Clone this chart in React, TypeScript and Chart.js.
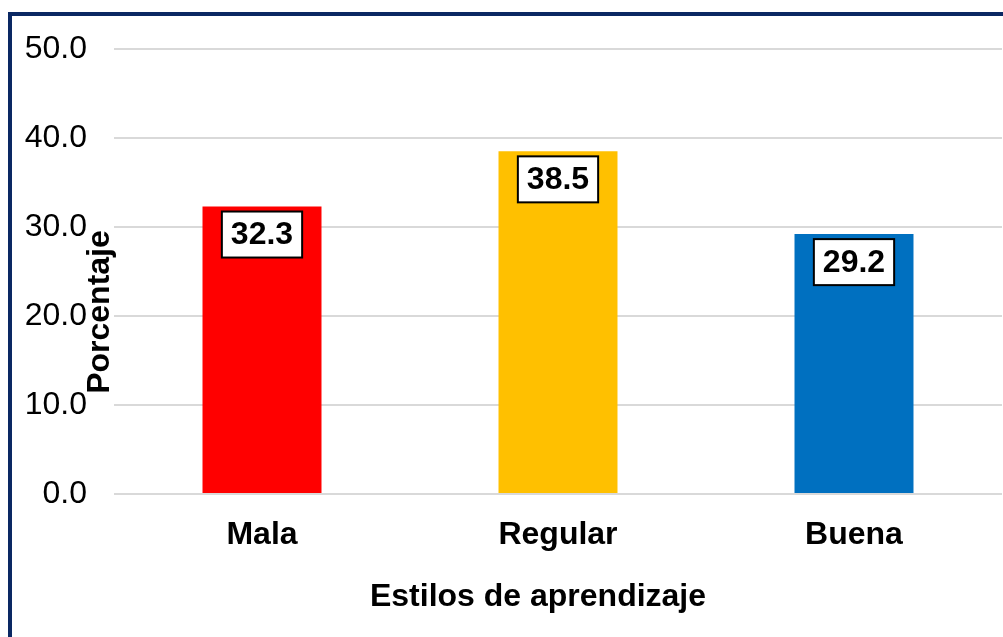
import React, { useEffect, useRef } from "react";
import { Chart, registerables } from "chart.js";

Chart.register(...registerables);

const categories = ["Mala", "Regular", "Buena"];
const values = [32.3, 38.5, 29.2];
const barColors = ["#FF0000", "#FFC000", "#0070C0"];
const yTitle = "Porcentaje";
const xTitle = "Estilos de aprendizaje";

const FONT = "'Liberation Sans', Arial, sans-serif";

const framePlugin = {
  id: "frame",
  beforeDraw(chart: any) {
    const ctx = chart.ctx;
    ctx.save();
    ctx.fillStyle = "#ffffff";
    ctx.fillRect(0, 0, chart.width, chart.height);
    ctx.fillStyle = "#0A2863";
    ctx.fillRect(8, 12, chart.width, 4);
    ctx.fillRect(8, 12, 4, chart.height);
    ctx.restore();
  },
};

const titlesPlugin = {
  id: "titles",
  afterDraw(chart: any) {
    const ctx = chart.ctx;
    const area = chart.chartArea;
    ctx.save();
    ctx.fillStyle = "#000";
    ctx.font = `bold 32px ${FONT}`;
    ctx.textAlign = "center";
    ctx.textBaseline = "middle";
    ctx.fillText(xTitle, (area.left + area.right) / 2 - 20, 597);
    ctx.translate(100, 312);
    ctx.rotate(-Math.PI / 2);
    ctx.fillText(yTitle, 0, 0);
    ctx.restore();
  },
};

const labelsPlugin = {
  id: "boxLabels",
  afterDatasetsDraw(chart: any) {
    const ctx = chart.ctx;
    const meta = chart.getDatasetMeta(0);
    ctx.save();
    ctx.font = `bold 32px ${FONT}`;
    ctx.textAlign = "center";
    ctx.textBaseline = "middle";
    meta.data.forEach((bar: any, i: number) => {
      const text = values[i].toFixed(1);
      const w = ctx.measureText(text).width + 18;
      const h = 46;
      const cx = bar.x;
      const top = bar.y + 5;
      ctx.fillStyle = "#ffffff";
      ctx.fillRect(cx - w / 2, top, w, h);
      ctx.strokeStyle = "#000";
      ctx.lineWidth = 2;
      ctx.strokeRect(cx - w / 2, top, w, h);
      ctx.fillStyle = "#000";
      ctx.fillText(text, cx, top + h / 2 + 1);
    });
    ctx.restore();
  },
};

export default function App() {
  const ref = useRef<HTMLCanvasElement>(null);
  useEffect(() => {
    if (!ref.current) return;
    const chart = new Chart(ref.current, {
      type: "bar",
      data: {
        labels: categories,
        datasets: [
          {
            data: values,
            backgroundColor: barColors,
            borderWidth: 0,
            categoryPercentage: 1,
            barPercentage: 0.402,
          },
        ],
      },
      options: {
        responsive: false,
        animation: false,
        layout: { padding: { top: 49, right: 1, left: 0, bottom: 0 } },
        plugins: {
          legend: { display: false },
          tooltip: { enabled: false },
        },
        scales: {
          x: {
            grid: { display: false, drawTicks: false },
            border: { display: false },
            ticks: {
              color: "#000",
              font: { family: FONT, size: 32, weight: "bold" },
              padding: 22,
            },
            afterFit(scale: any) {
              scale.height = 143;
            },
          },
          y: {
            min: 0,
            max: 50,
            grid: { color: "#D9D9D9", lineWidth: 2, drawTicks: false },
            border: { display: false },
            ticks: {
              stepSize: 10,
              color: "#000",
              font: { family: FONT, size: 32 },
              padding: 27,
              callback: (v: any) => Number(v).toFixed(1),
            },
            afterFit(scale: any) {
              scale.width = 114;
            },
          },
        },
      },
      plugins: [framePlugin, labelsPlugin, titlesPlugin],
    });
    return () => chart.destroy();
  }, []);
  return (
    <div style={{ position: "fixed", left: 0, top: 0, width: 1003, height: 637, background: "#fff" }}>
      <canvas ref={ref} width={1003} height={637} style={{ display: "block" }} />
    </div>
  );
}
